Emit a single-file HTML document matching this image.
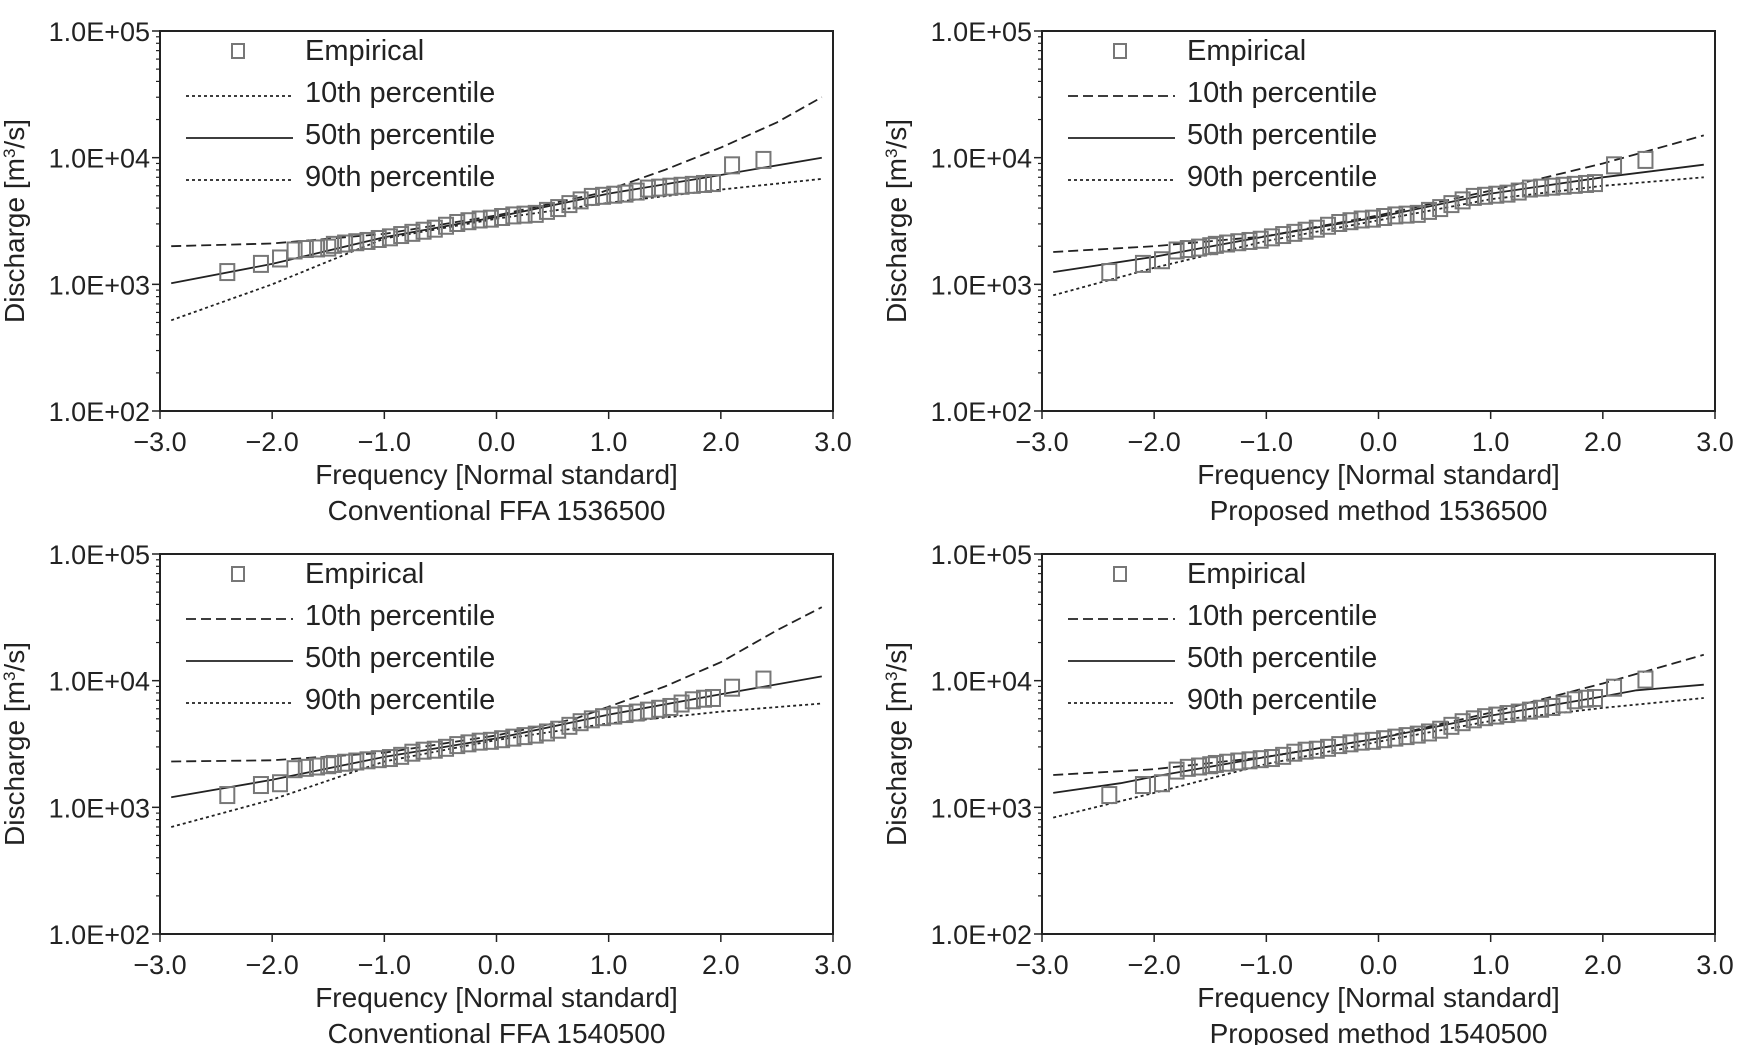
<!DOCTYPE html>
<html><head><meta charset="utf-8"><style>
body{margin:0;background:#fff}
svg{display:block;font-family:"Liberation Sans",sans-serif}
</style></head><body>
<svg id="fig" width="1738" height="1045" viewBox="0 0 1738 1045"></svg>
<script>
const xTicks=[-3,-2,-1,0,1,2,3];
const xTickLabels=["\u22123.0","\u22122.0","\u22121.0","0.0","1.0","2.0","3.0"];
const yTicks=[2,3,4,5];
const yTickLabels=["1.0E+02","1.0E+03","1.0E+04","1.0E+05"];
const titles=["Conventional FFA 1536500","Proposed method 1536500","Conventional FFA 1540500","Proposed method 1540500"];
const empZ=[-2.4,-2.1,-1.93,-1.8,-1.7,-1.6,-1.5,-1.45,-1.35,-1.25,-1.15,-1.05,-0.95,-0.85,-0.75,-0.65,-0.55,-0.45,-0.35,-0.25,-0.15,-0.05,0.05,0.15,0.25,0.35,0.45,0.55,0.65,0.75,0.85,0.95,1.05,1.15,1.25,1.35,1.45,1.55,1.65,1.75,1.85,1.93,2.1,2.38];
const empQ1=[1250,1450,1600,1850,1900,1920,1950,2050,2100,2150,2200,2280,2350,2450,2550,2650,2750,2900,3050,3150,3250,3300,3400,3500,3550,3600,3800,4000,4300,4600,4900,5000,5100,5200,5400,5700,5800,5900,6000,6100,6200,6300,8700,9600];
const empQ2=[1250,1450,1550,1850,1900,1950,2000,2050,2100,2150,2200,2250,2350,2450,2550,2650,2750,2900,3050,3150,3250,3300,3400,3500,3550,3600,3800,4000,4300,4600,4900,5000,5100,5200,5400,5700,5800,5900,6000,6100,6200,6300,8700,9600];
const empQ3=[1250,1500,1550,2000,2050,2100,2150,2200,2250,2300,2350,2400,2450,2550,2700,2800,2850,2950,3100,3200,3300,3350,3450,3550,3650,3750,3900,4100,4400,4700,4950,5150,5300,5450,5600,5800,6000,6200,6600,7000,7200,7300,8800,10200];
const empQ4=[1250,1500,1550,1950,2050,2100,2150,2200,2250,2300,2350,2400,2450,2550,2700,2800,2850,2950,3100,3200,3300,3350,3450,3550,3650,3750,3900,4100,4400,4700,4950,5150,5300,5450,5600,5800,6000,6200,6500,7000,7200,7300,8800,10200];
const p10Z1=[-2.9,-2,-1,0,0.9,1.5,2,2.5,2.9], p10Q1=[2000,2100,2500,3500,5200,8000,12000,19000,30000];
const p50Z1=[-2.9,-2,-1,0,1,2,2.9], p50Q1=[1020,1450,2350,3400,5200,7300,10000];
const p90Z1=[-2.9,-2,-1,0,1,2,2.9], p90Q1=[520,1000,2300,3300,4400,5600,6800];
const p10Z2=[-2.9,-2,-1,0,1,2,2.9], p10Q2=[1800,2000,2400,3500,5500,9000,15000];
const p50Z2=[-2.9,-2,-1,0,1,2,2.9], p50Q2=[1250,1650,2400,3400,5200,7000,8800];
const p90Z2=[-2.9,-2,-1,0,1,2,2.9], p90Q2=[820,1350,2200,3200,4700,6000,7000];
const p10Z3=[-2.9,-2,-1,0,0.7,1.5,2,2.5,2.9], p10Q3=[2300,2350,2700,3700,5000,9000,14000,25000,38000];
const p50Z3=[-2.9,-2,-1,0,1,2,2.9], p50Q3=[1200,1650,2500,3500,5400,7800,10800];
const p90Z3=[-2.9,-2,-1,0,1,2,2.9], p90Q3=[700,1150,2300,3400,4600,5700,6600];
const p10Z4=[-2.9,-2,-1,0,1,2,2.9], p10Q4=[1800,2000,2500,3500,5600,9500,16000];
const p50Z4=[-2.9,-2.3,-2,-1,0,1,2,2.3,2.9], p50Q4=[1300,1550,1750,2500,3500,5300,7500,8400,9300];
const p90Z4=[-2.9,-2,-1,0,1,2,2.9], p90Q4=[830,1300,2200,3300,4800,6100,7300];

const panels=[
 {L:160,T:31,emp:empQ1,s:[[p10Z1,p10Q1],[p50Z1,p50Q1],[p90Z1,p90Q1]],leg10:"3,3"},
 {L:1042,T:31,emp:empQ2,s:[[p10Z2,p10Q2],[p50Z2,p50Q2],[p90Z2,p90Q2]],leg10:"10,5"},
 {L:160,T:554,emp:empQ3,s:[[p10Z3,p10Q3],[p50Z3,p50Q3],[p90Z3,p90Q3]],leg10:"10,5"},
 {L:1042,T:554,emp:empQ4,s:[[p10Z4,p10Q4],[p50Z4,p50Q4],[p90Z4,p90Q4]],leg10:"10,5"}
];
const W=673,H=380,NS="http://www.w3.org/2000/svg";
const svg=document.getElementById('fig');
function mk(tag,attrs,parent,text){const e=document.createElementNS(NS,tag);for(const k in attrs)e.setAttribute(k,attrs[k]);if(text!==undefined)e.textContent=text;parent.appendChild(e);return e;}
const dashes=["10,5",null,"3,3"];
const names=["p10-line","p50-line","p90-line"];
panels.forEach((p,i)=>{
 const g=mk('g',{},svg);
 
 
 const xs=z=>p.L+(z+3)/6*W;
 const ys=q=>p.T+H-(Math.log10(q)-2)/3*H;
 const fr=mk('rect',{x:p.L,y:p.T,width:W,height:H,fill:'none',stroke:'#222','stroke-width':2},g);
 
 
 xTicks.forEach((t,j)=>{
  const x=xs(t);
  mk('line',{x1:x,x2:x,y1:p.T+H,y2:p.T+H+8,stroke:'#222','stroke-width':1.5},g);
  const tx=mk('text',{x:x,y:p.T+H+40,'font-size':27,'text-anchor':'middle',fill:'#222'},g,xTickLabels[j]);
  
  
 });
 yTicks.forEach((t,j)=>{
  const y=ys(Math.pow(10,t));
  mk('line',{x1:p.L-8,x2:p.L,y1:y,y2:y,stroke:'#222','stroke-width':1.5},g);
  const tx=mk('text',{x:p.L-10,y:y+10,'font-size':27,'text-anchor':'end',fill:'#222'},g,yTickLabels[j]);
  
  
  if(t<5)for(let m=2;m<=9;m++){const yy=ys(m*Math.pow(10,t));mk('line',{x1:p.L-4,x2:p.L,y1:yy,y2:yy,stroke:'#222','stroke-width':1.2},g);}
 });
 const yt=mk('text',{transform:`translate(${p.L-136},${p.T+H/2}) rotate(-90)`,'font-size':28,'text-anchor':'middle',fill:'#222'},g);
 
 
 yt.innerHTML='Discharge [m<tspan dy="-9" font-size="17">3</tspan><tspan dy="9">/s]</tspan>';
 const xt=mk('text',{x:p.L+W/2,y:p.T+H+73,'font-size':28,'text-anchor':'middle',fill:'#222'},g,'Frequency [Normal standard]');
 
 
 const st=mk('text',{x:p.L+W/2,y:p.T+H+109,'font-size':28,'text-anchor':'middle',fill:'#222'},g,titles[i]);
 
 
 p.s.forEach((s,k)=>{
  const d=s[0].map((z,n)=>(n?'L':'M')+xs(z).toFixed(1)+','+ys(s[1][n]).toFixed(1)).join(' ');
  const a={d:d,fill:'none',stroke:'#222','stroke-width':1.8};
  if(dashes[k])a['stroke-dasharray']=dashes[k];
  const l=mk('path',a,g);
  
  
 });
 empZ.forEach((z,n)=>{
  const r=mk('rect',{x:xs(z)-7,y:ys(p.emp[n])-8,width:14,height:16,fill:'none',stroke:'#777','stroke-width':2},g);
  
  
 });
 const lg=mk('g',{},g);
 
 
 const lx=p.L+26, tx=p.L+145, rows=[19,61,103,145];
 mk('rect',{x:lx+46,y:p.T+rows[0]-6,width:12,height:14,fill:'none',stroke:'#777','stroke-width':2},lg);
 const labels=['Empirical','10th percentile','50th percentile','90th percentile'];
 const ld=[null,p.leg10,null,"3,3"];
 labels.forEach((lb,k)=>{
  if(k>0){const a={x1:lx,x2:lx+107,y1:p.T+rows[k]+4,y2:p.T+rows[k]+4,stroke:'#222','stroke-width':1.8};if(ld[k])a['stroke-dasharray']=ld[k];mk('line',a,lg);}
  const t=mk('text',{x:tx,y:p.T+rows[k]+10,'font-size':29,fill:'#222'},lg,lb);
  
  
 });
});
</script>
</body></html>
